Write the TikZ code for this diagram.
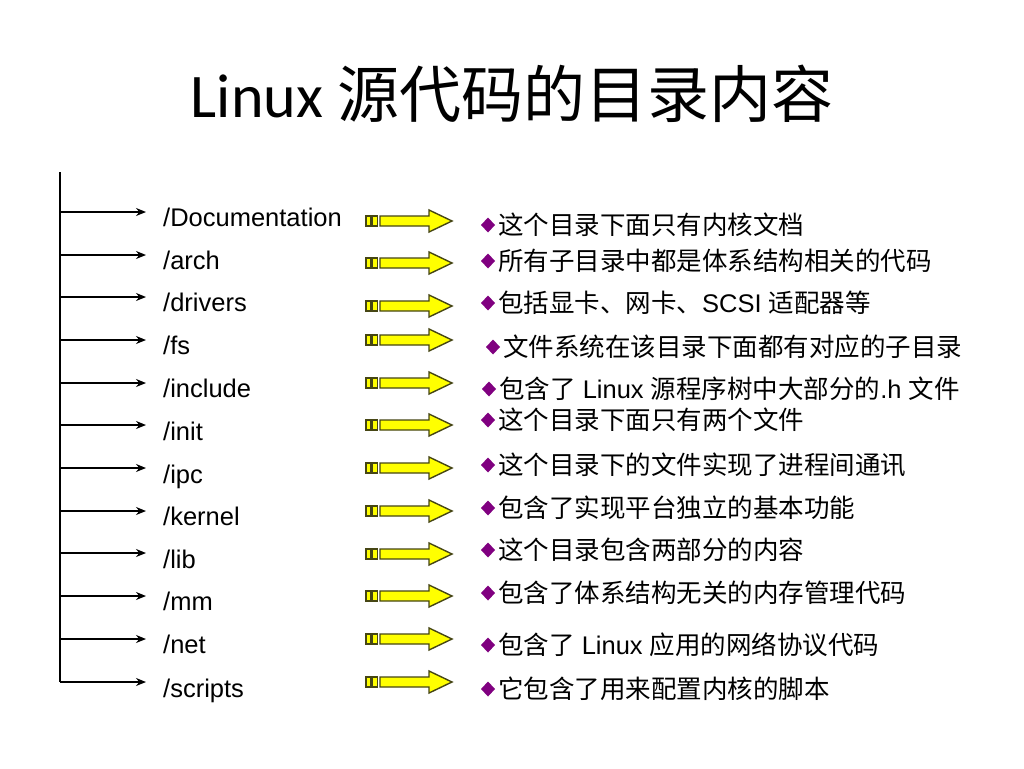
\documentclass[tikz,border=0pt]{standalone}
\usepackage{fontspec}
\setmainfont{Liberation Sans}
\newfontfamily\cjk{Noto Sans CJK SC}
\newfontfamily\titlelatin{Carlito}
\usetikzlibrary{arrows.meta}
\definecolor{bulletpurple}{RGB}{128,0,128}
\definecolor{arrowyellow}{RGB}{255,255,0}
\definecolor{arrowedge}{RGB}{70,70,20}
\tikzset{
  treeline/.style={line width=1.5pt, black},
  treearrow/.style={treeline, -{Stealth[length=10pt,width=8pt]}},
  dirlabel/.style={anchor=base west, inner sep=0pt, font=\fontsize{25.5}{30}\selectfont},
  desc/.style={anchor=base west, inner sep=0pt, font=\fontsize{25.5}{30}\selectfont},
  fatarrow/.style={fill=arrowyellow, draw=arrowedge, line width=1.4pt, line join=miter},
  bulletmark/.style={fill=bulletpurple},
}
\begin{document}
\begin{tikzpicture}[x=1pt,y=-1pt]
\fill[white] (0,0) rectangle (1024,768);
\useasboundingbox (0,0) rectangle (1024,768);
\node[anchor=base, inner sep=0pt] (title) at (512,117)
  {\fontsize{62}{74}\selectfont\titlelatin Linux \cjk 源代码的目录内容};
\coordinate (top) at (60,172);
\coordinate (bottom) at (60,682);
\draw[treeline] (top) -- (bottom);
\foreach \i/\ya/\yl/\yy/\yt/\xb/\lab/\txt in {
  1/212/217/221/225/488/Documentation/{{\cjk 这个目录下面只有内核文档}},
  2/255/260/263/261/488/arch/{{\cjk 所有子目录中都是体系结构相关的代码}},
  3/297/302/306/303/488/drivers/{{\cjk 包括显卡、网卡、}SCSI {\cjk 适配器等}},
  4/340/345/340/347/493/fs/{{\cjk 文件系统在该目录下面都有对应的子目录}},
  5/383/388/383/389/489/include/{{\cjk 包含了} Linux {\cjk 源程序树中大部分的}.h {\cjk 文件}},
  6/425/431/425/420/488/init/{{\cjk 这个目录下面只有两个文件}},
  7/468/474/468/465/488/ipc/{{\cjk 这个目录下的文件实现了进程间通讯}},
  8/511/516/511/508/488/kernel/{{\cjk 包含了实现平台独立的基本功能}},
  9/553/559/554/550/488/lib/{{\cjk 这个目录包含两部分的内容}},
  10/596/601/596/593/488/mm/{{\cjk 包含了体系结构无关的内存管理代码}},
  11/639/644/639/645/488/net/{{\cjk 包含了} Linux {\cjk 应用的网络协议代码}},
  12/682/688/682/689/488/scripts/{{\cjk 它包含了用来配置内核的脚本}}}
{
  \coordinate (t\i) at (60,\ya);
  \coordinate (e\i) at (146,\ya);
  \draw[treearrow] (t\i) -- (e\i);
  \node[dirlabel] (d\i) at (163,\yl+9) {/\lab};
  \coordinate (y\i) at (366,\yy);
  \begin{scope}[shift={(y\i)}]
    \filldraw[fatarrow] (0,-5) rectangle (5,5);
    \filldraw[fatarrow] (6.5,-5) rectangle (11.5,5);
    \filldraw[fatarrow] (14,-5) -- (63,-5) -- (63,-11) -- (86,0) -- (63,11) -- (63,5) -- (14,5) -- cycle;
  \end{scope}
  \fill[bulletmark] (\xb-7,\yt) -- (\xb,\yt-7.5) -- (\xb+7,\yt) -- (\xb,\yt+7.5) -- cycle;
  \node[desc] (s\i) at (\xb+10,\yt+9.5) {\txt};
}
\end{tikzpicture}
\end{document}
